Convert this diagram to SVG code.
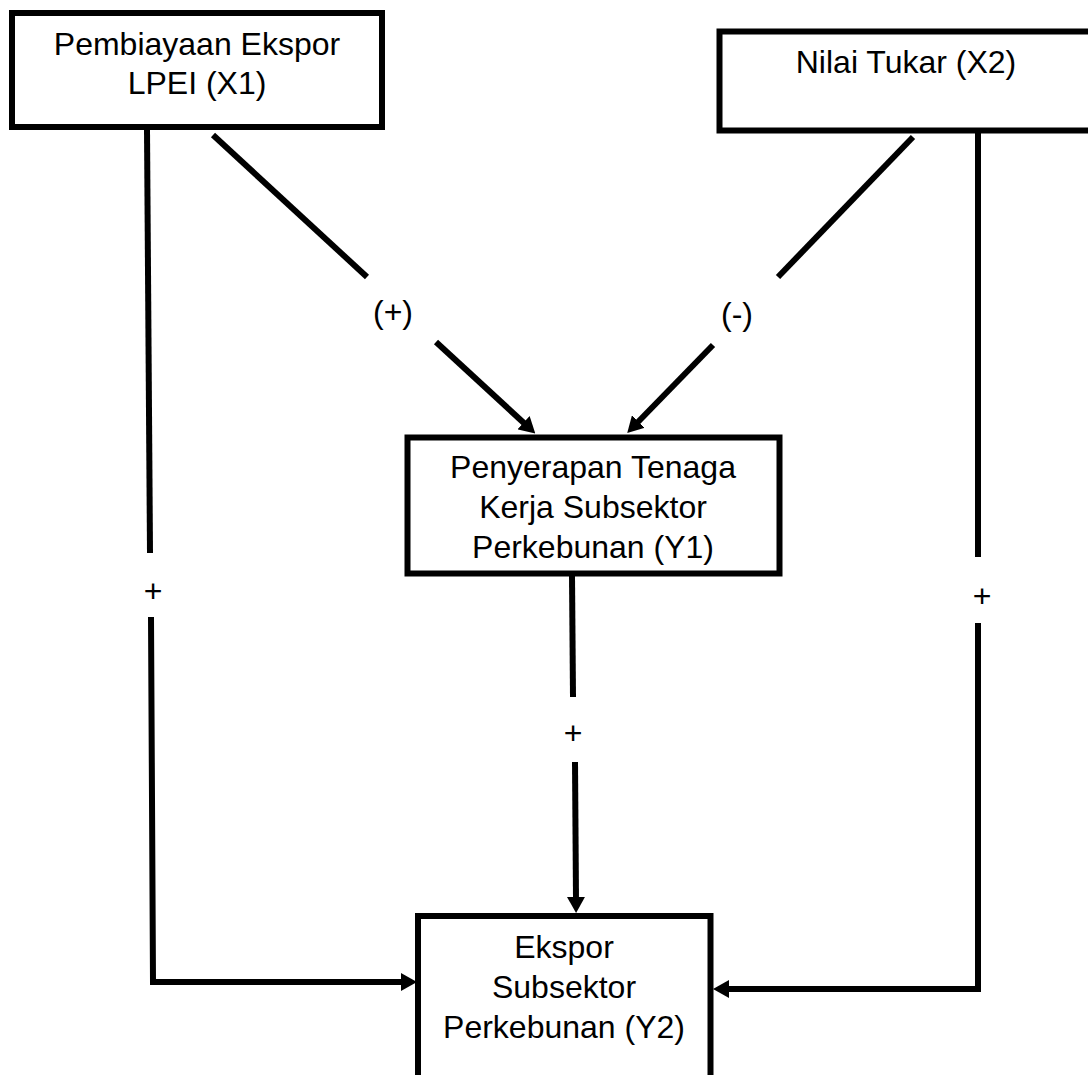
<svg xmlns="http://www.w3.org/2000/svg" width="1088" height="1075" viewBox="0 0 1088 1075">
  <style>
    .box { fill: #ffffff; stroke: #000000; stroke-width: 6; }
    .lbl { font-family: "Liberation Sans", Arial, sans-serif; font-size: 32px; fill: #000000; text-anchor: middle; }
    .edge { fill: none; stroke: #000000; stroke-width: 6; }
    .sign { font-family: "Liberation Sans", Arial, sans-serif; font-size: 32px; fill: #000000; text-anchor: middle; }
  </style>
  <defs>
    <marker id="arrow" markerUnits="userSpaceOnUse" markerWidth="16" markerHeight="18" refX="2" refY="9" orient="auto">
      <path d="M0,0 L16,9 L0,18 z" fill="#000000"/>
    </marker>
  </defs>
  <rect x="0" y="0" width="1088" height="1075" fill="#ffffff"/>

  <g id="connectors">
    <!-- X1 -> Y2 (left vertical) -->
    <path class="edge" d="M147,130 L150,553"/>
    <path class="edge" d="M151,617 L153,982 L403,982" marker-end="url(#arrow)"/>
    <!-- X1 -> Y1 diagonal -->
    <path class="edge" d="M213,135 L367,277"/>
    <path class="edge" d="M436,342 L525,424" marker-end="url(#arrow)"/>
    <!-- X2 -> Y1 diagonal -->
    <path class="edge" d="M913,137 L778,277"/>
    <path class="edge" d="M713,345 L637,423" marker-end="url(#arrow)"/>
    <!-- X2 -> Y2 (right vertical) -->
    <path class="edge" d="M978,133 L978,557"/>
    <path class="edge" d="M978,623 L978,989 L727,989" marker-end="url(#arrow)"/>
    <!-- Y1 -> Y2 -->
    <path class="edge" d="M572,576 L573,697"/>
    <path class="edge" d="M575,762 L576,899" marker-end="url(#arrow)"/>
    <!-- labels -->
    <text class="sign" x="393" y="323">(+)</text>
    <text class="sign" x="737" y="325">(-)</text>
    <text class="sign" x="153" y="602">+</text>
    <text class="sign" x="982" y="607">+</text>
    <text class="sign" x="573" y="744">+</text>
  </g>

  <g id="node-x1">
    <rect class="box" x="12" y="13" width="370" height="114"/>
    <text class="lbl" x="197" y="55">Pembiayaan Ekspor</text>
    <text class="lbl" x="197" y="94">LPEI (X1)</text>
  </g>

  <g id="node-x2">
    <rect class="box" x="719.5" y="31.5" width="373" height="99"/>
    <text class="lbl" x="906" y="73">Nilai Tukar (X2)</text>
  </g>

  <g id="node-y1">
    <rect class="box" x="407.5" y="437.5" width="372" height="136"/>
    <text class="lbl" x="593" y="478">Penyerapan Tenaga</text>
    <text class="lbl" x="593" y="518">Kerja Subsektor</text>
    <text class="lbl" x="593" y="558">Perkebunan (Y1)</text>
  </g>

  <g id="node-y2">
    <rect class="box" x="418" y="916" width="292.5" height="170"/>
    <text class="lbl" x="564" y="958">Ekspor</text>
    <text class="lbl" x="564" y="998">Subsektor</text>
    <text class="lbl" x="564" y="1038">Perkebunan (Y2)</text>
  </g>
</svg>
